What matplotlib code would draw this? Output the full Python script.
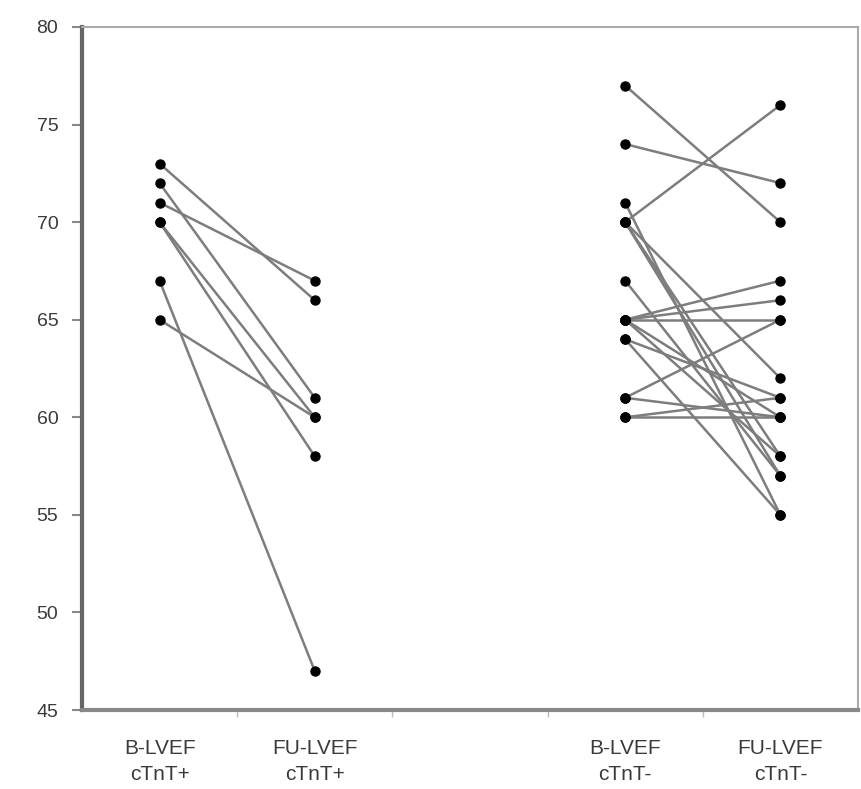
import numpy as np
import matplotlib.pyplot as plt

plt.rcParams['font.family'] = ['Liberation Sans', 'DejaVu Sans']

categories = ['B-LVEF\ncTnT+', 'FU-LVEF\ncTnT+', '', 'B-LVEF\ncTnT-', 'FU-LVEF\ncTnT-']

# paired LVEF values, baseline -> follow-up
pos_base = [73, 72, 71, 70, 70, 67, 65]
pos_fu   = [66, 61, 67, 60, 58, 47, 60]

neg_base = [77, 74, 70, 71, 70, 70, 70, 67, 65, 65, 65, 65, 65, 64, 64, 61, 61, 60, 60]
neg_fu   = [70, 72, 76, 55, 57, 58, 62, 57, 67, 66, 65, 60, 58, 61, 55, 65, 60, 60, 61]

yticks = [45, 50, 55, 60, 65, 70, 75, 80]

line_c = '#7d7d7d'
txt_c = '#3a3a3a'

fig = plt.figure(figsize=(8.61, 7.89), dpi=100)
ax = fig.add_axes([0.0952, 0.1001, 0.9013, 0.8657])

def draw_pairs(x0, base, fu):
    for b, f in zip(base, fu):
        ax.plot([x0, x0 + 1], [b, f], color=line_c, lw=1.8, solid_capstyle='round')
    ax.plot(np.full(len(base), x0), base, 'o', color='black', ms=6.5, ls='none', zorder=3)
    ax.plot(np.full(len(fu), x0 + 1), fu, 'o', color='black', ms=6.5, ls='none', zorder=3)

draw_pairs(0, pos_base, pos_fu)
draw_pairs(3, neg_base, neg_fu)

ax.set_xlim(-0.5, 4.5)
ax.set_ylim(45, 80)
ax.set_yticks(yticks)
ax.set_yticklabels([str(v) for v in yticks], fontsize=14, color=txt_c)

ax.set_xticks(range(5))
ax.set_xticklabels(categories, fontsize=15, color=txt_c, linespacing=1.45)
ax.set_xticks([0.5, 1.5, 2.5, 3.5], minor=True)
ax.tick_params(axis='x', which='major', length=0, pad=21)
ax.tick_params(axis='x', which='minor', length=5, width=1, color='#bbbbbb')
ax.tick_params(axis='y', length=7, width=1.5, color='#888888', pad=10)

ax.spines['left'].set_color('#666666')
ax.spines['left'].set_linewidth(3)
ax.spines['bottom'].set_color('#888888')
ax.spines['bottom'].set_linewidth(3)
for s in ('top', 'right'):
    ax.spines[s].set_color('#aaaaaa')
    ax.spines[s].set_linewidth(1.5)

fig.savefig('out.png', dpi=100)
